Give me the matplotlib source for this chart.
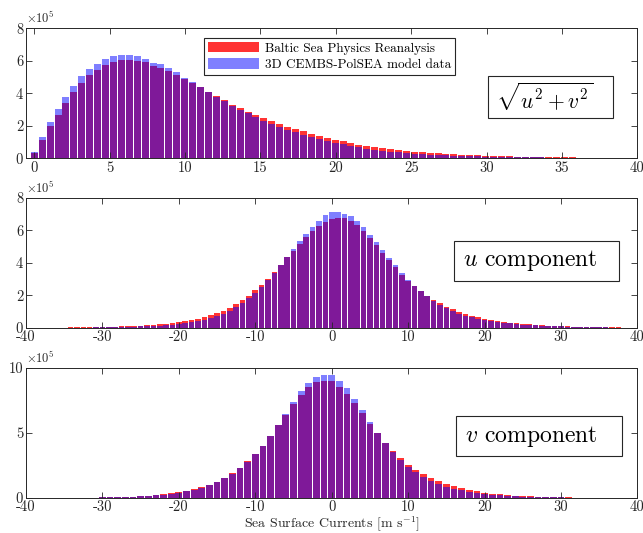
import numpy as np
import matplotlib
matplotlib.use('Agg')
import matplotlib.pyplot as plt
from matplotlib.patches import Rectangle
from matplotlib.ticker import FuncFormatter

plt.rcParams['font.family'] = 'serif'
plt.rcParams['font.serif'] = ['cmr10']
plt.rcParams['mathtext.fontset'] = 'cm'
plt.rcParams['axes.unicode_minus'] = False

SCALE = 1e5
labels = ['Baltic Sea Physics Reanalysis', '3D CEMBS-PolSEA model data']

# speed sqrt(u^2+v^2), bin width ~0.525, first centre at 0
speed_bin = 0.525
speed_reanalysis = [0.31, 1.14, 1.96, 2.69, 3.41, 4.08, 4.61, 5.10, 5.43, 5.73,
                    5.92, 6.02, 6.04, 5.98, 5.90, 5.70, 5.58, 5.39, 5.15, 4.88,
                    4.62, 4.37, 4.10, 3.82, 3.57, 3.30, 3.08, 2.87, 2.65, 2.46,
                    2.28, 2.09, 1.95, 1.78, 1.66, 1.52, 1.37, 1.27, 1.15, 1.05,
                    0.94, 0.84, 0.76, 0.68, 0.62, 0.55, 0.49, 0.45, 0.39, 0.37,
                    0.33, 0.30, 0.28, 0.25, 0.23, 0.21, 0.19, 0.17, 0.15, 0.14,
                    0.12, 0.11, 0.10, 0.09, 0.08, 0.07, 0.06, 0.055, 0.05, 0.04,
                    0.035, 0.03, 0.025, 0.02, 0.018, 0.015, 0.012]
speed_model = [0.39, 1.31, 2.22, 3.06, 3.80, 4.47, 5.04, 5.49, 5.82, 6.08,
               6.27, 6.33, 6.33, 6.27, 6.10, 5.89, 5.78, 5.54, 5.29, 4.96,
               4.68, 4.40, 4.08, 3.78, 3.53, 3.24, 2.99, 2.77, 2.52, 2.32,
               2.13, 1.93, 1.76, 1.62, 1.46, 1.33, 1.19, 1.07, 0.96, 0.86,
               0.76, 0.68, 0.59, 0.53, 0.47, 0.41, 0.37, 0.33, 0.29, 0.27,
               0.23, 0.21, 0.19, 0.17, 0.15, 0.14, 0.12, 0.11, 0.10, 0.09,
               0.08, 0.07, 0.06, 0.055, 0.05, 0.045, 0.04, 0.035, 0.03, 0.025,
               0.02, 0.018, 0.015, 0.012, 0.01, 0.008, 0.006]

# u component, bin width 5/6, centres k*5/6 for k=-42..45
u_bin = 5.0 / 6.0
u_first = -42
u_reanalysis = [0.015, 0.02, 0.025, 0.03, 0.035, 0.04, 0.045, 0.055, 0.065, 0.08,
                0.09, 0.11, 0.13, 0.15, 0.18, 0.21, 0.25, 0.29, 0.34, 0.40,
                0.46, 0.54,
                0.64, 0.76, 0.88, 1.05, 1.23, 1.44, 1.68, 1.97, 2.30, 2.61,
                3.02, 3.43, 3.84, 4.33, 4.72, 5.15, 5.56, 5.93, 6.26, 6.52,
                6.71, 6.75,
                6.73, 6.58, 6.32, 5.97, 5.54, 5.09, 4.62, 4.16, 3.71, 3.26,
                2.89, 2.56, 2.28, 1.95, 1.70, 1.50, 1.29, 1.13, 0.96, 0.84,
                0.74, 0.64, 0.55,
                0.48, 0.42, 0.37, 0.32, 0.28, 0.24, 0.21, 0.18, 0.16, 0.14,
                0.12, 0.10, 0.08, 0.07, 0.06, 0.05, 0.04, 0.035, 0.03, 0.025,
                0.02]
u_model = [0.006, 0.008, 0.01, 0.012, 0.015, 0.02, 0.025, 0.03, 0.035, 0.045,
           0.055, 0.065, 0.08, 0.09, 0.11, 0.13, 0.16, 0.19, 0.23, 0.28,
           0.33, 0.40,
           0.49, 0.59, 0.72, 0.86, 1.05, 1.27, 1.54, 1.85, 2.17, 2.52,
           2.95, 3.38, 3.84, 4.33, 4.84, 5.31, 5.78, 6.22, 6.58, 6.95,
           7.10, 7.12,
           7.03, 6.89, 6.56, 6.17, 5.70, 5.25, 4.76, 4.31, 3.84, 3.36,
           2.95, 2.56, 2.28, 1.95, 1.66, 1.42, 1.21, 1.03, 0.86, 0.74,
           0.64, 0.53, 0.47,
           0.41, 0.36, 0.31, 0.27, 0.23, 0.20, 0.17, 0.15, 0.13, 0.11,
           0.10, 0.08, 0.065, 0.055, 0.045, 0.04, 0.03, 0.025, 0.02, 0.015,
           0.012]

# v component, bin width 1, centres k for k=-30..31
v_bin = 1.0
v_first = -30
v_reanalysis = [0.025, 0.035, 0.05, 0.07, 0.09, 0.12, 0.16, 0.20, 0.26, 0.33,
                0.42, 0.53, 0.66,
                0.82, 1.0, 1.2, 1.53, 1.89, 2.32, 2.81, 3.37, 4.0, 4.77,
                5.61, 6.35, 7.22, 7.93, 8.55, 8.88, 9.0,
                8.95, 8.55, 7.98, 7.30, 6.50, 5.66, 4.97, 4.21, 3.60, 3.04,
                2.55, 2.14, 1.79, 1.51, 1.25, 1.05, 0.87, 0.71, 0.59, 0.48,
                0.38, 0.31, 0.25, 0.20, 0.16, 0.13, 0.10, 0.08, 0.06, 0.045,
                0.035, 0.02]
v_model = [0.02, 0.03, 0.04, 0.06, 0.08, 0.10, 0.14, 0.18, 0.23, 0.30,
           0.38, 0.49, 0.62,
           0.77, 0.94, 1.17, 1.48, 1.84, 2.27, 2.76, 3.37, 4.0, 4.77,
           5.61, 6.45, 7.35, 8.19, 8.83, 9.26, 9.46,
           9.41, 9.0, 8.42, 7.60, 6.71, 5.79, 4.97, 4.21, 3.52, 2.93,
           2.40, 1.99, 1.58, 1.28, 1.07, 0.84, 0.69, 0.56, 0.43, 0.36,
           0.28, 0.22, 0.18, 0.14, 0.11, 0.09, 0.07, 0.055, 0.04, 0.03,
           0.025, 0.015]

panels = [
    dict(x=np.arange(len(speed_reanalysis)) * speed_bin, w=speed_bin,
         r=speed_reanalysis, b=speed_model, xlim=(-0.55, 40), xticks=np.arange(0, 41, 5),
         ylim=8, yticks=[0, 2, 4, 6, 8], label=r'$\sqrt{u^2+v^2}$',
         box=(0.755, 0.312, 0.205, 0.323), fs=15.5),
    dict(x=(u_first + np.arange(len(u_reanalysis))) * u_bin, w=u_bin,
         r=u_reanalysis, b=u_model, xlim=(-40, 40), xticks=np.arange(-40, 41, 10),
         ylim=8, yticks=[0, 2, 4, 6, 8], label=r'$u$ component',
         box=(0.700, 0.359, 0.270, 0.310), fs=17),
    dict(x=(v_first + np.arange(len(v_reanalysis))) * v_bin, w=v_bin,
         r=v_reanalysis, b=v_model, xlim=(-40, 40), xticks=np.arange(-40, 41, 10),
         ylim=10, yticks=[0, 5, 10], label=r'$v$ component',
         box=(0.704, 0.319, 0.271, 0.308), fs=17),
]

fig = plt.figure(figsize=(6.43, 5.33), dpi=100)
bottoms = [0.703, 0.385, 0.0662]
axcol = '0.15'

for p, bot in zip(panels, bottoms):
    ax = fig.add_axes([0.0404, bot, 0.951, 0.244])
    h1 = ax.bar(p['x'], np.array(p['r']) * SCALE, width=p['w'] * 0.88,
                color='r', alpha=0.8, edgecolor='none')
    h2 = ax.bar(p['x'], np.array(p['b']) * SCALE, width=p['w'] * 0.88,
                color='b', alpha=0.5, edgecolor='none')
    ax.set_xlim(*p['xlim'])
    ax.set_ylim(0, p['ylim'] * SCALE)
    ax.set_xticks(p['xticks'])
    ax.xaxis.set_major_formatter(FuncFormatter(lambda v, pos: '%d' % round(v)))
    ax.set_yticks(np.array(p['yticks']) * SCALE)
    ax.yaxis.set_major_formatter(FuncFormatter(lambda v, pos: '%g' % (v / SCALE)))
    ax.tick_params(direction='in', top=True, right=True, length=4, width=0.6,
                   labelsize=10.5, colors=axcol, pad=2)
    for s in ax.spines.values():
        s.set_color(axcol)
        s.set_linewidth(0.7)
    ax.text(0.0, 1.015, r'$\times10^5$', transform=ax.transAxes, fontsize=9,
            color=axcol, ha='left', va='bottom')
    bx, by, bw, bh = p['box']
    ax.add_patch(Rectangle((bx, by), bw, bh, transform=ax.transAxes,
                           facecolor='white', edgecolor=axcol, lw=0.8, zorder=5))
    ax.text(bx + 0.014, by + bh / 2, p['label'], transform=ax.transAxes,
            fontsize=p['fs'], ha='left', va='center', zorder=6)
    if bot == bottoms[0]:
        leg = ax.legend([h1, h2], labels, loc='upper left',
                        bbox_to_anchor=(0.291, 0.925), borderaxespad=0,
                        fontsize=9.5, handlelength=3.9, handleheight=0.85,
                        fancybox=False, framealpha=1, edgecolor=axcol,
                        borderpad=0.3, labelspacing=0.25, handletextpad=0.4)
        leg.get_frame().set_linewidth(0.8)
    if bot == bottoms[-1]:
        ax.set_xlabel(r'Sea Surface Currents [m s$^{-1}$]', fontsize=10,
                      color=axcol)
        ax.xaxis.set_label_coords(0.5, -0.128)

fig.savefig('out.png', dpi=100)
